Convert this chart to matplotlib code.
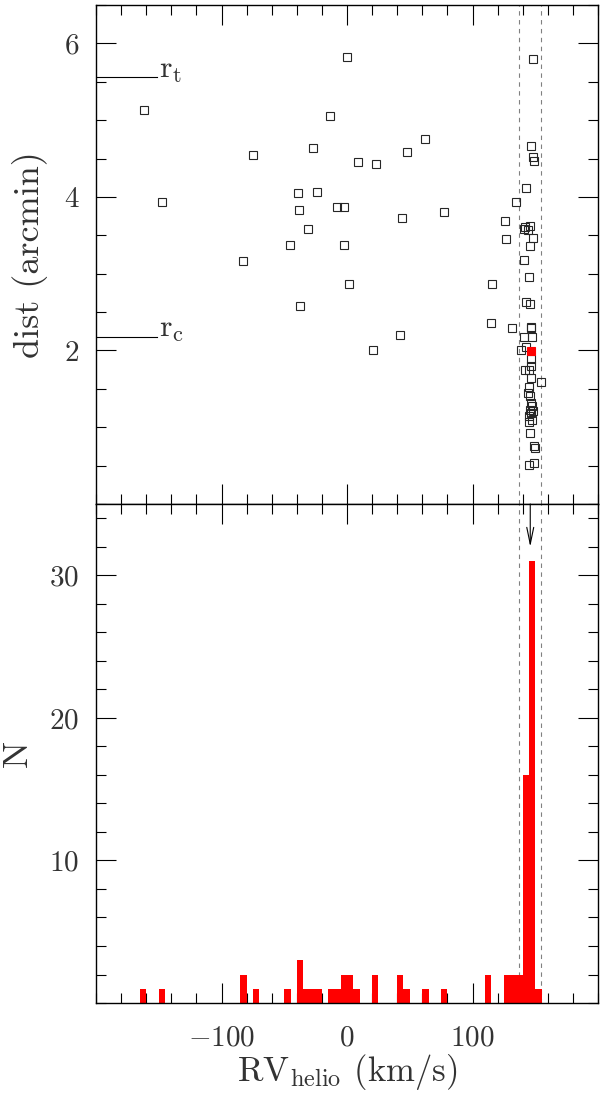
import matplotlib
matplotlib.use("Agg")
import matplotlib.pyplot as plt
from matplotlib.ticker import MultipleLocator

plt.rcParams['font.family'] = 'serif'
plt.rcParams['font.serif'] = ['cmr10']
plt.rcParams['mathtext.fontset'] = 'cm'
plt.rcParams['axes.formatter.use_mathtext'] = True
plt.rcParams['text.color'] = '0.2'
plt.rcParams['xtick.labelcolor'] = '0.2'
plt.rcParams['ytick.labelcolor'] = '0.2'
plt.rcParams['axes.labelcolor'] = '0.2'

# estrellas: velocidad radial (km/s) y distancia al centro (arcmin)
rv_campo = [-162.1, -147.2, -75.0, -82.7, 0.3, -13.6, -27.2, 8.5, 22.9, 47.5,
            61.9, -39.0, -23.7, -38.4, -8.3, -2.7, -30.7, -45.6, -2.1, -37.3,
            1.9, 21.0, 41.9, 43.5, 77.0, 115.4, 114.7, 126.1, 126.7, 131.4,
            134.4, 138.4]
dist_campo = [5.13, 3.94, 4.54, 3.17, 5.82, 5.06, 4.64, 4.45, 4.43, 4.58,
              4.76, 4.05, 4.06, 3.83, 3.87, 3.87, 3.58, 3.38, 3.38, 2.58,
              2.87, 2.01, 2.20, 3.72, 3.81, 2.87, 2.36, 3.69, 3.45, 2.29,
              3.93, 2.01]

rv_cumulo = [148.3, 146.4, 148.0, 149.0, 142.4, 141.5, 145.5, 144.0, 140.8,
             148.3, 145.8, 140.8, 144.8, 142.6, 146.2, 146.4, 146.6, 141.3,
             147.7, 142.6, 146.4, 146.9, 142.2, 145.1, 146.4, 154.6, 145.4,
             144.6, 145.9, 146.7, 147.5, 145.9, 148.3, 146.7, 145.0, 147.2,
             145.4, 145.6, 149.0, 149.9, 149.0, 145.4]
dist_cumulo = [5.80, 4.66, 4.52, 4.47, 4.12, 3.61, 3.62, 3.57, 3.58,
               3.46, 3.36, 3.18, 2.96, 2.63, 2.60, 2.31, 2.29, 2.17,
               2.17, 2.05, 1.89, 1.80, 1.75, 1.75, 1.64, 1.59, 1.52,
               1.45, 1.41, 1.31, 1.27, 1.23, 1.21, 1.18, 1.14, 1.10,
               1.07, 0.92, 0.76, 0.73, 0.54, 0.51]

rv_rojo = [146.9]
dist_rojo = [1.99]

# histograma: borde izquierdo de cada bin (ancho 5 km/s) y cuentas
bin_izq = [-165, -150, -85, -75, -50, -40, -35, -30, -25, -15, -10, -5, 0, 5,
           20, 40, 45, 60, 75, 110, 125, 130, 135, 140, 145, 150]
cuentas = [1, 1, 2, 1, 1, 3, 1, 1, 1, 1, 1, 2, 2, 1,
           2, 2, 1, 1, 1, 2, 2, 2, 2, 16, 31, 1]
ancho_bin = 5

# etiquetas de los ejes
xticks = [-100, 0, 100]
yticks_dist = [2, 4, 6]
yticks_n = [10, 20, 30]

# limites de velocidad del cumulo, velocidad media, radios
rv_lim = [137.0, 154.6]
rv_media = 146.0
r_t = 5.56
r_c = 2.18

fig = plt.figure(figsize=(6, 10.93), dpi=100)
ax1 = fig.add_axes([0.16, 0.5389, 0.8367, 0.4565])
ax2 = fig.add_axes([0.16, 0.0823, 0.8367, 0.4566])

for ax in (ax1, ax2):
    ax.set_xlim(-200, 200)
    ax.set_xticks(xticks)
    ax.xaxis.set_minor_locator(MultipleLocator(20))
    ax.tick_params(which='both', direction='in', top=True, right=True,
                   width=0.8, labelsize=21)
    ax.tick_params(which='major', length=14.5)
    ax.tick_params(which='minor', length=7.2)
    ax.tick_params(axis='y', pad=12)
    ax.tick_params(axis='x', pad=16)
    for s in ax.spines.values():
        s.set_linewidth(1.0)
    for v in rv_lim:
        ax.axvline(v, color='gray', lw=0.8, ls=(0, (4, 4)), zorder=1)

# panel superior
ax1.plot(rv_campo, dist_campo, 's', ms=5.8, mfc='none', mec='0.15', mew=0.8, zorder=3)
ax1.plot(rv_cumulo, dist_cumulo, 's', ms=5.8, mfc='none', mec='0.15', mew=0.8, zorder=3)
ax1.plot(rv_rojo, dist_rojo, 's', ms=5.8, mfc='red', mec='red', mew=0.8, zorder=4)
ax1.set_ylim(0, 6.5)
ax1.set_yticks(yticks_dist)
ax1.yaxis.set_minor_locator(MultipleLocator(0.5))
ax1.tick_params(labelbottom=False)
ax1.set_ylabel('dist (arcmin)', fontsize=26, va='center')
ax1.yaxis.set_label_coords(-0.131, 0.5)

ax1.plot([-200, -151], [r_t, r_t], color='k', lw=0.8)
ax1.plot([-200, -151], [r_c, r_c], color='k', lw=0.8)
ax1.text(-150, r_t, r'$\mathrm{r_t}$', fontsize=23, va='baseline', ha='left')
ax1.text(-150, r_c, r'$\mathrm{r_c}$', fontsize=23, va='baseline', ha='left')

# panel inferior
ax2.bar(bin_izq, cuentas, width=ancho_bin, align='edge', color='red',
        edgecolor='none', zorder=2)
ax2.set_ylim(0, 35)
ax2.set_yticks(yticks_n)
ax2.yaxis.set_minor_locator(MultipleLocator(2))
ax2.set_ylabel('N', fontsize=26, va='center')
ax2.yaxis.set_label_coords(-0.156, 0.5)
ax2.set_xlabel(r'RV$_{\rm helio}$ (km/s)', fontsize=25, labelpad=0)
ax2.annotate('', xy=(rv_media, 32), xytext=(rv_media, 35),
             arrowprops=dict(arrowstyle='->, head_length=1.2, head_width=0.25',
                             color='k', lw=0.8, shrinkA=0, shrinkB=0))

fig.savefig('out.png', dpi=100)
